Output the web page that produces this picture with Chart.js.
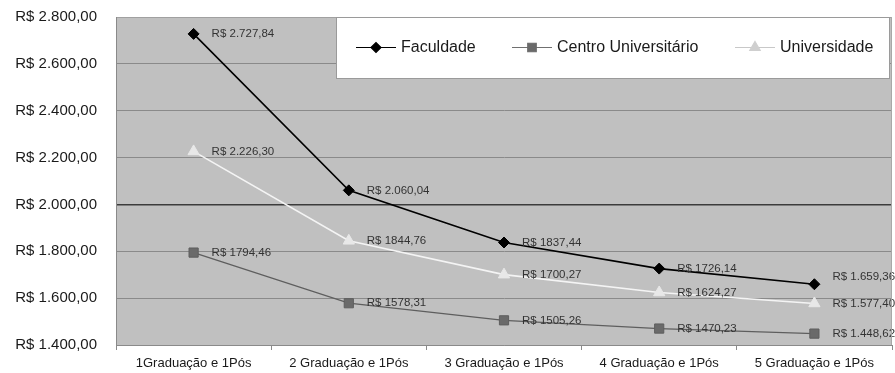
<!DOCTYPE html>
<html>
<head>
<meta charset="utf-8">
<script src="https://cdn.jsdelivr.net/npm/chart.js@4/dist/chart.umd.min.js"></script>
<style>
  html, body { margin: 0; padding: 0; background: #ffffff; }
  #wrap { width: 895px; height: 373px; }
</style>
</head>
<body>
<div id="wrap"><canvas id="chart" width="895" height="373"></canvas></div>
<script>
// Salário médio por formação e tipo de instituição
const categories = [
  '1Graduação e 1Pós',
  '2 Graduação e 1Pós',
  '3 Graduação e 1Pós',
  '4 Graduação e 1Pós',
  '5 Graduação e 1Pós'
];
const faculdade = [2727.84, 2060.04, 1837.44, 1726.14, 1659.36];
const centroUniversitario = [1794.46, 1578.31, 1505.26, 1470.23, 1448.62];
const universidade = [2226.30, 1844.76, 1700.27, 1624.27, 1577.40];

const faculdadeLabels = ['R$ 2.727,84', 'R$ 2.060,04', 'R$ 1837,44', 'R$ 1726,14', 'R$ 1.659,36'];
const centroLabels = ['R$ 1794,46', 'R$ 1578,31', 'R$ 1505,26', 'R$ 1470,23', 'R$ 1.448,62'];
const universidadeLabels = ['R$ 2.226,30', 'R$ 1844,76', 'R$ 1700,27', 'R$ 1624,27', 'R$ 1.577,40'];

const yMin = 1400, yMax = 2800, yStep = 200;

const FONT = '"Liberation Sans", Arial, sans-serif';

function brl(v) {
  const [int, dec] = v.toFixed(2).split('.');
  return 'R$ ' + int.replace(/\B(?=(\d{3})+(?!\d))/g, '.') + ',' + dec;
}

// grey plot area behind the grid
const plotBackground = {
  id: 'plotBackground',
  beforeDraw(chart) {
    const { ctx, chartArea: a } = chart;
    ctx.save();
    ctx.fillStyle = '#c0c0c0';
    ctx.fillRect(a.left, a.top, a.right - a.left, a.bottom - a.top);
    ctx.restore();
  },
  afterDraw(chart) {
    const { ctx, chartArea: a } = chart;
    ctx.save();
    ctx.strokeStyle = '#a8a8a8';
    ctx.lineWidth = 1;
    ctx.beginPath();
    ctx.moveTo(Math.round(a.right) - 0.5, a.top);
    ctx.lineTo(Math.round(a.right) - 0.5, a.bottom);
    ctx.stroke();
    ctx.restore();
  }
};

// value labels to the right of each point
const valueLabels = {
  id: 'valueLabels',
  afterDatasetsDraw(chart) {
    const { ctx } = chart;
    ctx.save();
    ctx.font = '11.5px ' + FONT;
    ctx.fillStyle = '#333333';
    ctx.textAlign = 'left';
    ctx.textBaseline = 'middle';
    chart.data.datasets.forEach((ds, i) => {
      const meta = chart.getDatasetMeta(i);
      meta.data.forEach((pt, j) => {
        let dy = 0;
        // last Faculdade label sits a little above its point
        if (i === 0 && j === meta.data.length - 1) dy = -7;
        ctx.fillText(ds.valueLabels[j], pt.x + 18, pt.y + dy);
      });
    });
    ctx.restore();
  }
};

// boxed legend in the upper right of the plot
const boxLegend = {
  id: 'boxLegend',
  afterDraw(chart) {
    const { ctx, chartArea: a } = chart;
    const x0 = 336, y0 = a.top, x1 = a.right - 3, y1 = a.top + 61;
    ctx.save();
    ctx.fillStyle = '#ffffff';
    ctx.fillRect(x0, y0, x1 - x0, y1 - y0);
    ctx.strokeStyle = '#9a9a9a';
    ctx.lineWidth = 1;
    ctx.strokeRect(x0 + 0.5, y0 + 0.5, x1 - x0, y1 - y0);
    const cy = y0 + 30;
    const entries = [
      { x: 356, textX: 401 },
      { x: 512, textX: 557 },
      { x: 735, textX: 780 }
    ];
    chart.data.datasets.forEach((ds, i) => {
      const e = entries[i];
      ctx.strokeStyle = ds.legendLine;
      ctx.lineWidth = 1.2;
      ctx.beginPath();
      ctx.moveTo(e.x, cy + 0.5);
      ctx.lineTo(e.x + 40, cy + 0.5);
      ctx.stroke();
      ctx.fillStyle = ds.legendMarker;
      ctx.strokeStyle = ds.legendMarker;
      Chart.helpers.drawPoint(ctx, {
        pointStyle: ds.pointStyle,
        radius: ds.legendRadius,
        rotation: 0,
        borderWidth: 1
      }, e.x + 20, cy + 0.5);
      ctx.fillStyle = '#1a1a1a';
      ctx.font = '16px ' + FONT;
      ctx.textAlign = 'left';
      ctx.textBaseline = 'middle';
      ctx.fillText(ds.label, e.textX, cy + 1);
    });
    ctx.restore();
  }
};

new Chart(document.getElementById('chart'), {
  type: 'line',
  data: {
    labels: categories,
    datasets: [
      {
        label: 'Faculdade',
        data: faculdade,
        valueLabels: faculdadeLabels,
        borderColor: '#000000',
        backgroundColor: '#000000',
        borderWidth: 1.6,
        pointStyle: 'rectRot',
        pointRadius: 5.5,
        pointBorderWidth: 1,
        legendLine: '#000000',
        legendMarker: '#000000',
        legendRadius: 5
      },
      {
        label: 'Centro Universitário',
        data: centroUniversitario,
        valueLabels: centroLabels,
        borderColor: '#5e5e5e',
        backgroundColor: '#6a6a6a',
        borderWidth: 1.3,
        pointStyle: 'rect',
        pointRadius: 6.5,
        pointBorderWidth: 1,
        legendLine: '#707070',
        legendMarker: '#6a6a6a',
        legendRadius: 6
      },
      {
        label: 'Universidade',
        data: universidade,
        valueLabels: universidadeLabels,
        borderColor: '#f4f4f4',
        backgroundColor: '#e8e8e8',
        pointBorderColor: '#e8e8e8',
        borderWidth: 1.6,
        pointStyle: 'triangle',
        pointRadius: 6.5,
        pointBorderWidth: 1,
        legendLine: '#c8c8c8',
        legendMarker: '#cfcfcf',
        legendRadius: 6
      }
    ]
  },
  options: {
    responsive: false,
    animation: false,
    devicePixelRatio: 1,
    layout: { autoPadding: false, padding: { top: 17, right: 3, bottom: 0, left: 0 } },
    plugins: {
      legend: { display: false },
      tooltip: { enabled: false }
    },
    elements: { line: { tension: 0 } },
    scales: {
      x: {
        offset: true,
        afterFit(scale) { scale.height = 28; scale.paddingLeft = 0; scale.paddingRight = 0; },
        grid: {
          offset: true,
          drawOnChartArea: false,
          drawTicks: true,
          tickLength: 5,
          color: '#8a8a8a'
        },
        border: { display: true, color: '#8a8a8a', width: 1 },
        ticks: {
          font: { family: FONT, size: 13 },
          color: '#1a1a1a',
          padding: 6,
          maxRotation: 0,
          autoSkip: false
        }
      },
      y: {
        min: yMin,
        max: yMax,
        afterFit(scale) { scale.width = 116; scale.paddingTop = 0; scale.paddingBottom = 0; },
        grid: {
          drawTicks: false,
          color: (c) => {
            if (c.tick && c.tick.value === 2000) return '#3c3c3c';
            if (c.tick && c.tick.value === yMax) return '#a0a0a0';
            return '#8a8a8a';
          },
          lineWidth: (c) => (c.tick && c.tick.value === 2000 ? 1.5 : 1)
        },
        border: { display: true, color: '#8a8a8a', width: 1 },
        ticks: {
          stepSize: yStep,
          padding: 19,
          font: { family: FONT, size: 15 },
          color: '#1a1a1a',
          callback: (v) => brl(v)
        }
      }
    }
  },
  plugins: [plotBackground, valueLabels, boxLegend]
});
</script>
</body>
</html>
